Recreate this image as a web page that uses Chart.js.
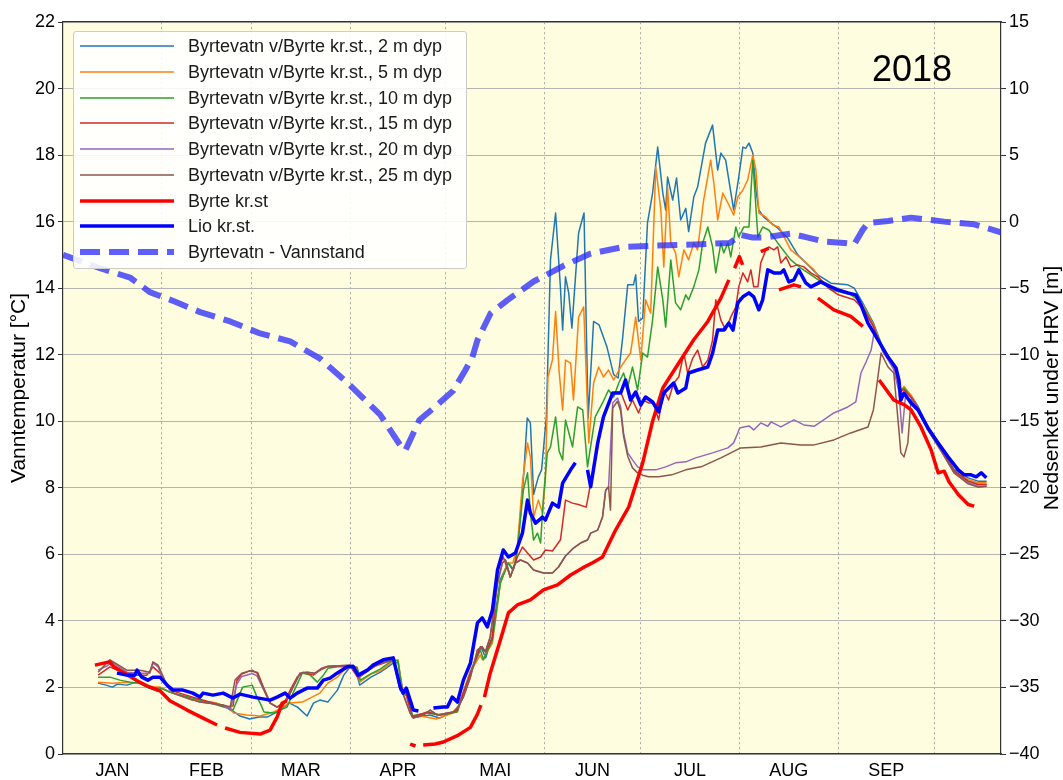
<!DOCTYPE html>
<html><head><meta charset="utf-8">
<script src="https://cdn.jsdelivr.net/npm/chart.js@4/dist/chart.umd.min.js"></script>
<style>
html,body{margin:0;padding:0;background:#fff;}
#wrap{position:relative;width:1063px;height:780px;font-family:"Liberation Sans",Arial,sans-serif;}
#legend{position:absolute;left:73px;top:31px;width:394px;height:238px;background:rgba(255,255,255,0.88);border:1px solid #cccccc;border-radius:3px;box-sizing:border-box;}
.row{position:absolute;left:0;width:390px;height:26px;}
.row svg{position:absolute;left:6px;top:0;}
.row span{position:absolute;left:114px;top:0;line-height:26px;font-size:18px;color:#1a1a1a;white-space:nowrap;}
#year{position:absolute;left:872px;top:51px;font-size:36px;line-height:1;color:#000;}
</style></head>
<body>
<div id="wrap">
<canvas id="c" width="1063" height="780"></canvas>
<div id="legend"></div>
<div id="year">2018</div>
</div>
<script>
// ---- categories / tick labels ----
const MONTHS = ['JAN','FEB','MAR','APR','MAI','JUN','JUL','AUG','SEP'];
const MONTH_MID = [15.5,45,74.5,105,135.5,166,196.5,227.5,258];
const MONTH_START = [31,59,90,120,151,181,212,243,273];
const Y_TITLE = 'Vanntemperatur [°C]';
const Y1_TITLE = 'Nedsenket under HRV [m]';

// ---- series values: [day of year, value] ----
const T02 = [[11,2.13],[13.5,2.07],[15.5,2.01],[17,2.10],[20,2.07],[23,2.16],[25,2.07],[27,1.98],[29.5,1.89],[31,1.98],[33.5,1.86],[40.5,1.62],[48,1.53],[51.5,1.41],[55.5,1.14],[58.5,1.05],[61.5,1.11],[64,1.11],[67,1.26],[71,1.53],[73.5,1.41],[76.5,1.14],[78.5,1.53],[80.5,1.62],[83,1.56],[86,1.92],[88,2.37],[90,2.62],[91.5,2.62],[93,2.07],[96.5,2.31],[99.5,2.46],[103.5,2.73],[105,2.76],[106.5,1.92],[107.5,1.86],[108,1.62],[109.5,1.17],[111,1.11],[115,1.17],[118,1.08],[121.5,1.23],[123.5,1.32],[127.5,2.43],[131,3.22],[132.5,2.89],[134.5,3.52],[137,5.23],[139.5,5.74],[141,5.53],[142,5.83],[143,6.73],[144.5,8.54],[145.5,10.1],[146.5,9.95],[147.5,7.8],[149,8.33],[150,8.54],[151.5,10.13],[152.8,14.85],[154.4,16.26],[155.9,14.04],[156.6,12.74],[157.5,14.34],[158.5,13.86],[159.5,12.8],[161.6,15.66],[163.3,16.26],[164.6,10.1],[166.3,13.0],[168,12.9],[170.5,12.23],[172.6,11.4],[174,11.3],[175.4,12.5],[177,14.1],[178.8,14.1],[179.5,14.4],[180.4,13.0],[181.7,13.1],[183.2,15.96],[184.8,16.86],[186.4,18.24],[188,16.86],[188.9,16.35],[189.5,17.34],[191.1,16.65],[192.3,17.31],[193.6,16.05],[195.2,16.4],[196.1,15.7],[197.7,16.74],[198.9,17.04],[201.4,18.36],[203.6,18.9],[205.2,17.55],[206.2,18.06],[207.7,17.85],[210.2,16.35],[211.8,17.34],[213.1,18.24],[214,18.2],[215,18.36],[216.2,18.06],[217.2,16.95],[218.1,16.35],[219.6,16.14],[221.9,15.96],[224,15.81],[227.2,15.5],[230.3,15.0],[233.5,14.7],[236.6,14.4],[240.7,14.15],[246,14.1],[248,14.0],[251,13.5],[254,12.95],[257,12.2],[260.4,11.7],[262.6,10.95],[263.6,11.0],[266,10.75],[268,10.45],[271,9.85],[275.6,9.15],[279.3,8.55],[283.7,8.3],[286.8,8.2],[289.5,8.2]];

const T05 = [[11,2.16],[15.5,2.13],[20,2.16],[24,2.13],[27,2.01],[30.5,2.01],[33.5,1.86],[40.5,1.62],[48,1.53],[51.5,1.41],[53.5,1.23],[57.5,1.17],[61.8,1.14],[66,1.26],[71,1.53],[75,1.56],[80.5,1.83],[83,2.13],[86,2.31],[88,2.52],[90,2.62],[92,2.62],[93,2.16],[96.5,2.4],[99.5,2.5],[103.5,2.78],[105,2.83],[106.5,1.83],[107.5,1.83],[109.5,1.11],[112,1.14],[117,1.05],[120.5,1.17],[123.5,1.28],[127.5,2.43],[130.8,2.98],[131.5,2.83],[134.6,3.34],[137.1,5.14],[139.3,5.74],[141,5.74],[142.4,6.22],[144,8.15],[145.6,9.35],[146.5,8.93],[147.5,7.12],[149,7.63],[150.3,7.24],[151.2,8.24],[152,11.33],[153.4,11.84],[154.4,13.3],[155.5,11.5],[156.6,10.34],[157.5,11.84],[159.1,11.75],[160,10.64],[161.6,13.13],[163.2,13.44],[164.8,9.35],[166.3,11.15],[167.9,11.63],[169.4,11.33],[171,11.54],[172.6,11.24],[174.8,11.63],[176.3,11.84],[177.9,12.05],[179.5,13.13],[181.1,11.84],[182.6,13.65],[184.2,13.25],[185.8,17.64],[187.4,16.35],[188.3,14.64],[189.5,17.04],[190.5,15.36],[192,15.06],[193,14.34],[194.6,15.15],[196.1,14.85],[197.7,15.36],[198.9,15.15],[200.8,16.65],[203,17.85],[204,17.16],[205.2,16.05],[206.8,16.86],[208.4,16.56],[210.2,16.2],[211.5,16.74],[213.1,16.95],[214.6,17.25],[216.2,18.0],[217.2,17.55],[218.1,16.26],[220.3,16.14],[222.5,15.9],[224.4,15.84],[228.1,15.15],[231.3,14.9],[235.4,14.55],[237.5,14.25],[240.7,14.0],[243.8,13.95],[246.9,13.85],[248.5,13.75],[251,13.45],[254,12.9],[257,12.15],[260.4,11.65],[262.6,10.9],[263.6,11.05],[266,10.75],[268,10.4],[271,9.8],[275.6,9.1],[279.3,8.5],[283.7,8.25],[286.8,8.15],[289.5,8.15]];

const T10 = [[11,2.31],[14.7,2.31],[17.8,2.22],[21,2.16],[24,2.13],[27,1.98],[30.5,1.98],[33.5,1.86],[43,1.62],[51.4,1.38],[53.3,1.32],[55,1.71],[56.3,2.01],[59.3,2.07],[60.8,1.71],[61.8,1.53],[63,1.26],[66,1.23],[70.2,1.41],[72.1,1.83],[75,2.43],[77.5,2.37],[79.7,2.16],[81.6,2.37],[83.1,2.58],[85.9,2.62],[89.1,2.62],[92.2,2.6],[93.2,2.22],[96.3,2.4],[99.4,2.55],[103.5,2.83],[105,2.8],[106.3,1.9],[108,1.7],[109.5,1.15],[114,1.23],[118.3,1.17],[123.6,1.26],[127.7,2.43],[130.8,3.13],[131.8,2.83],[134.6,3.43],[137.1,5.14],[139.6,5.74],[141.2,5.55],[142.4,6.13],[144.3,7.93],[145.6,8.45],[146.5,7.24],[147.5,6.43],[148.7,6.64],[149.7,6.34],[150.6,7.72],[151.8,9.05],[152.8,9.23],[154.4,10.13],[155.5,9.1],[156.6,8.84],[157.5,10.04],[159.7,9.23],[161.3,10.43],[162.9,10.34],[164.4,8.63],[166.8,10.13],[169.1,10.55],[171,10.94],[172.6,10.73],[174.2,11.15],[175.7,11.45],[177,11.03],[178.5,11.63],[180.1,10.94],[181.7,12.05],[183.2,11.93],[184.8,13.04],[186.4,14.64],[188,13.65],[188.9,12.83],[190.5,14.85],[192,13.56],[193.6,13.35],[195.2,13.8],[196.1,13.65],[197.7,14.04],[199.3,14.55],[200.5,15.36],[202.1,15.84],[203.6,15.24],[204.6,14.46],[206.2,15.36],[207.1,15.06],[208.4,15.36],[209.3,14.94],[210.9,15.84],[211.8,15.54],[213.4,15.84],[215,15.84],[216.2,17.85],[217.8,15.54],[219.3,15.84],[221.2,15.75],[224,15.36],[228.1,14.85],[231.3,14.6],[235.4,14.34],[237.5,14.2],[240.7,13.95],[246.9,13.8],[248.5,13.7],[251,13.4],[254,12.85],[257,12.1],[260.4,11.6],[262.6,10.9],[263.6,11.0],[266,10.7],[268,10.4],[271,9.8],[275.6,9.1],[279.3,8.5],[283.7,8.2],[286.8,8.1],[289.5,8.1]];

const T15 = [[11,2.37],[14.7,2.62],[16.9,2.52],[18.7,2.46],[23.2,2.37],[26.3,2.37],[28.2,2.62],[30.4,2.43],[33.5,1.92],[40.7,1.71],[51.4,1.41],[53.3,1.45],[54.5,2.2],[56,2.4],[58.6,2.5],[61,2.45],[62.8,2.01],[65,1.53],[67.1,1.41],[69,1.45],[71.2,1.92],[73.4,2.31],[75.3,2.46],[78.4,2.37],[80.6,2.52],[82.8,2.62],[86.8,2.64],[90,2.64],[92.5,2.28],[97.2,2.62],[103.5,2.83],[105.7,1.92],[107.3,1.9],[109.5,1.11],[114.2,1.26],[118.3,1.17],[122.5,1.26],[123.6,1.32],[127.7,2.43],[130.8,3.22],[132.5,3.07],[134.6,3.5],[136.2,5.53],[138,5.92],[140.2,5.32],[142.4,5.92],[144,6.22],[145.6,6.04],[147.5,5.83],[149.7,5.92],[151.2,6.13],[153.4,6.1],[155.9,6.43],[156.6,6.94],[157.5,7.63],[159.7,7.54],[161.5,7.5],[164,7.42],[165.4,8.14],[167.6,9.23],[169.1,10.04],[170.7,10.43],[172.3,10.85],[174.8,10.88],[177,10.34],[178.5,10.64],[180.4,10.25],[181.9,10.64],[183.5,10.55],[185.1,10.55],[186.7,10.04],[188.3,10.94],[189.8,10.64],[191.4,11.15],[193,11.33],[194.6,12.05],[195.8,11.45],[197.4,11.9],[198.9,12.14],[200.5,11.63],[202.1,11.84],[203.6,12.44],[204.6,13.65],[206.2,13.04],[207.7,12.74],[209.3,13.13],[210.9,13.44],[211.8,14.04],[213.1,14.46],[214.6,14.19],[215.6,14.55],[216.5,14.04],[217.8,14.04],[218.7,14.76],[220.3,15.15],[221.2,15.24],[222.8,15.15],[224,15.24],[225,14.76],[226.6,14.94],[228.1,14.64],[230.3,14.7],[232.2,14.64],[234.4,14.46],[236.6,14.34],[240,14.0],[243,13.8],[248,13.65],[251,13.35],[254,12.85],[257,12.1],[260.4,11.6],[262.6,10.9],[263.6,10.95],[266,10.7],[268,10.4],[271,9.8],[275.6,9.1],[279.3,8.5],[283.7,8.2],[286.8,8.1],[289.5,8.1]];

const T20 = [[11,2.52],[13.7,2.64],[15.3,2.77],[20,2.46],[24,2.43],[27.2,2.43],[28.2,2.73],[29.8,2.62],[31.4,2.22],[34.5,1.83],[42.9,1.56],[50.2,1.47],[52.4,1.32],[54.5,2.1],[56,2.33],[59.3,2.42],[60.8,2.35],[62.8,1.95],[64.9,1.53],[67.1,1.41],[70.2,1.62],[72.1,2.01],[74.3,2.43],[76.5,2.46],[79,2.43],[81.2,2.58],[83.1,2.64],[90,2.67],[92.5,2.31],[95.4,2.5],[99.4,2.73],[103.5,2.83],[105.7,1.95],[106.6,1.8],[108.8,1.23],[109.8,1.08],[112.9,1.17],[115.1,1.32],[117.3,1.17],[119.8,1.22],[122.3,1.26],[123.8,1.41],[125.5,1.71],[127.7,2.31],[129.9,3.13],[131.4,3.22],[132.4,3.07],[133.9,3.52],[136.2,5.14],[137.7,5.74],[138.7,5.83],[140.2,5.32],[141.8,5.74],[143.4,5.83],[145.6,5.74],[147.5,5.53],[150.6,5.44],[153.4,5.44],[155.3,5.62],[157.5,5.95],[160,6.19],[162.2,6.34],[164.4,6.43],[165.4,6.64],[167.6,6.73],[169.1,7.12],[170.1,7.93],[171,8.03],[172.3,10.55],[173.8,10.7],[174.8,10.43],[175.7,9.65],[177,9.05],[178.5,8.84],[180.1,8.63],[181.7,8.54],[185.8,8.54],[188.9,8.63],[192,8.75],[195.2,8.78],[198.3,8.9],[203.6,9.05],[208.4,9.2],[210.2,9.35],[211.5,9.65],[212.1,9.8],[213.4,9.83],[215,9.86],[216.5,9.74],[218.7,9.95],[220.9,9.85],[221.9,9.98],[225,9.83],[229.1,10.04],[232.2,9.89],[235.4,9.85],[237.5,9.98],[241.6,10.25],[246,10.43],[248.5,10.58],[250.1,11.45],[251.7,11.78],[253.3,12.14],[254.2,12.65],[255.5,12.5],[257,12.1],[260.4,11.55],[262,10.9],[263,9.65],[264,10.7],[266,10.65],[268,10.35],[271,9.75],[275.6,9.05],[279.3,8.45],[283.7,8.15],[286.8,8.05],[289.5,8.05]];

const T25 = [[11,2.46],[14.7,2.83],[16.9,2.7],[20,2.52],[24.1,2.52],[27.2,2.46],[28.2,2.77],[29.8,2.67],[31.9,2.22],[34.5,1.83],[42.9,1.56],[50.2,1.47],[52.4,1.41],[53.9,2.22],[56.1,2.43],[59.3,2.52],[60.8,2.43],[62.8,1.98],[64.9,1.53],[67.1,1.41],[70.2,1.62],[72.1,2.01],[74.3,2.43],[76.5,2.46],[79,2.43],[81.2,2.58],[83.1,2.64],[90,2.67],[92.5,2.31],[95.4,2.5],[99.4,2.73],[103.5,2.83],[105.7,1.95],[106.6,1.8],[108.8,1.23],[109.8,1.08],[112.9,1.17],[115.1,1.32],[117.3,1.17],[119.8,1.22],[122.3,1.26],[123.8,1.41],[125.5,1.71],[127.7,2.31],[129.9,3.13],[131.4,3.22],[132.4,3.07],[133.9,3.52],[136.2,5.14],[137.7,5.74],[138.7,5.83],[140.2,5.32],[141.8,5.74],[143.4,5.83],[145.6,5.74],[147.5,5.53],[150.6,5.44],[153.4,5.44],[155.3,5.62],[157.5,5.95],[160,6.19],[162.2,6.34],[164.4,6.43],[165.4,6.64],[167.6,6.73],[169.1,7.12],[170.1,7.93],[171,8.03],[171.6,7.33],[172.3,10.4],[173.8,10.6],[174.8,10.3],[175.7,9.55],[177,8.95],[178.5,8.6],[180.1,8.45],[181.7,8.38],[183.5,8.33],[186.7,8.33],[190.8,8.39],[195.2,8.54],[198.3,8.6],[200,8.63],[206.2,8.9],[212.4,9.2],[218.7,9.23],[225,9.35],[231.3,9.29],[235.4,9.29],[241.6,9.44],[246.9,9.65],[252.3,9.83],[254,10.34],[255,11.03],[256.4,12.05],[258.6,11.63],[260.4,11.45],[262,9.74],[262.6,9.05],[263.6,8.93],[264.8,9.35],[265.8,10.64],[268,10.3],[271,9.75],[275.6,9.05],[279.3,8.45],[283.7,8.12],[286.8,8.02],[289.5,8.05]];

const BYRTE = [[10,2.67],[14.5,2.77],[16,2.62],[23.2,2.2],[26.3,2.05],[30.4,1.9],[33.5,1.6],[38.9,1.32],[43.9,1.08],[48.3,0.87],[49.5,null],[50.8,0.78],[55.5,0.65],[61.8,0.6],[64.9,0.72],[67.1,1.11],[68.7,1.53],[70.2,1.6],[72,null],[108.8,0.3],[110.5,0.24],[111.5,null],[112.9,0.27],[116.7,0.3],[119.2,0.36],[123.6,0.55],[127.7,0.8],[129.9,1.2],[131,1.47],[131.6,null],[132.1,1.71],[133.9,2.43],[137.1,3.43],[139.6,4.24],[142.4,4.48],[146.5,4.63],[150.6,4.93],[155,5.08],[159.1,5.38],[163,5.6],[166,5.75],[169.1,5.92],[173.2,6.73],[177.3,7.42],[181.7,8.75],[184.8,10.0],[188,11.0],[193,11.75],[197.7,12.45],[202.1,13.0],[206.2,13.7],[208.7,14.25],[209.5,null],[210.5,14.6],[212,14.95],[213,14.7],[214,null],[218.7,15.1],[221.2,15.2],[222,null],[224.4,13.95],[229.1,14.1],[231.3,14.04],[232.5,null],[236.6,13.7],[241.6,13.35],[246.9,13.15],[250.7,12.85],[252,null],[255.8,11.24],[260.4,10.64],[263.6,10.5],[265.8,10.34],[268.9,9.83],[272.1,9.14],[274.3,8.45],[276.2,8.5],[277.7,8.18],[280.6,7.8],[283.7,7.5],[285.6,7.45]];

const LIO = [[16.9,2.43],[20,2.37],[22.5,2.37],[23.2,2.52],[24.7,2.31],[26.6,2.22],[28.2,2.31],[30.4,2.31],[32.6,2.07],[34.5,1.92],[37.6,1.92],[40.7,1.83],[42.9,1.71],[43.9,1.83],[47,1.77],[50.2,1.83],[53.3,1.68],[55.5,1.8],[59.6,1.71],[64.9,1.62],[67.1,1.71],[69.6,1.83],[71.2,1.68],[73.4,1.83],[76.5,1.98],[79.7,1.98],[81.6,2.22],[83.7,2.28],[85.9,2.43],[89.1,2.62],[90.9,2.64],[92.5,2.37],[95.4,2.52],[97.2,2.67],[100.4,2.83],[103.5,2.89],[105.7,2.01],[106.6,1.83],[107.6,1.98],[108.8,1.62],[109.8,1.32],[111.4,1.29],[113,null],[116.1,1.38],[119.2,1.41],[120.5,1.41],[122,1.71],[123.6,1.56],[125.5,2.22],[127.7,2.73],[129.9,3.94],[131.4,4.09],[133,3.82],[134.6,4.33],[136.2,5.53],[138,6.13],[139.6,5.92],[141.8,6.04],[144,6.64],[145.6,7.63],[146.5,7.24],[148.1,6.94],[150.3,7.12],[151.2,7.03],[153.4,7.54],[155.3,7.42],[156.6,8.14],[159.1,8.54],[160.6,8.75],[162,null],[164.4,8.54],[165.4,8.03],[167.6,9.35],[169.4,10.13],[172.3,10.85],[174.8,10.85],[176.3,11.24],[177.9,10.64],[179.5,10.88],[181.1,10.49],[182.6,10.73],[184.8,10.58],[186.7,10.28],[188.3,10.85],[191.4,11.15],[192.7,10.85],[195.2,11.0],[196.1,11.45],[198.9,11.54],[202.1,11.63],[203.6,12.05],[205.2,12.74],[207.1,12.74],[208.7,12.95],[210,12.74],[211.5,13.56],[213.1,13.74],[215,13.86],[216.5,13.74],[218.1,13.35],[219.3,13.65],[220.9,14.55],[222.8,14.46],[225,14.46],[225.9,14.55],[227.5,14.19],[229.1,14.25],[230.6,14.55],[232.8,14.16],[234.4,14.04],[237.5,14.19],[240.7,14.04],[242.9,13.95],[246,13.86],[248.5,13.8],[250.1,13.5],[252.3,12.95],[254.2,12.65],[256.4,12.29],[258.6,11.93],[261.1,11.6],[262,11.24],[262.6,10.64],[263.6,10.85],[265.8,10.55],[268,10.34],[271.1,9.8],[274.3,9.35],[277.4,8.93],[280.6,8.54],[282.5,8.39],[284.6,8.39],[286.2,8.33],[287.8,8.45],[289.4,8.3]];

const VANN = [[0,-2.5],[11.6,-3.5],[21,-4.2],[27.2,-5.3],[35,-6.0],[43,-6.8],[52.4,-7.5],[61.8,-8.4],[71.2,-9.0],[80.6,-10.3],[90,-12.3],[99.4,-14.5],[105.7,-16.8],[107.3,-17.2],[111.7,-14.9],[116.7,-13.9],[122.3,-12.7],[126,-11.2],[128.3,-10.2],[129.9,-8.9],[134,-6.9],[139.3,-5.9],[147.5,-4.5],[157,-3.3],[165.4,-2.4],[175.7,-1.9],[186,-1.8],[200,-1.7],[209,-1.6],[212.4,-1.0],[216.2,-1.2],[220,-1.2],[225,-1.0],[228,-0.9],[233.5,-1.2],[238.5,-1.5],[244.8,-1.6],[248,-1.7],[250.7,-0.6],[252.3,-0.1],[258.6,0.05],[265.8,0.3],[276.2,0.0],[285.6,-0.2],[294,-0.8]];

// ---- styles ----
const SERIES = [
  {label:'Byrtevatn v/Byrte kr.st., 2 m dyp',  pts:T02, color:'#1f77b4', w:1.5},
  {label:'Byrtevatn v/Byrte kr.st., 5 m dyp',  pts:T05, color:'#ff7f0e', w:1.5},
  {label:'Byrtevatn v/Byrte kr.st., 10 m dyp', pts:T10, color:'#2ca02c', w:1.5},
  {label:'Byrtevatn v/Byrte kr.st., 15 m dyp', pts:T15, color:'#d62728', w:1.5},
  {label:'Byrtevatn v/Byrte kr.st., 20 m dyp', pts:T20, color:'#9467bd', w:1.5},
  {label:'Byrtevatn v/Byrte kr.st., 25 m dyp', pts:T25, color:'#8c564b', w:1.5},
  {label:'Byrte kr.st', pts:BYRTE, color:'#ff0000', w:3.5},
  {label:'Lio kr.st.',  pts:LIO,   color:'#0000ff', w:3.5},
  {label:'Byrtevatn - Vannstand', pts:VANN, color:'rgba(40,40,255,0.75)', w:6, dash:[20,9], axis:'y1'}
];

const FONT = '"Liberation Sans", Arial, sans-serif';
Chart.defaults.font.family = FONT;
Chart.defaults.color = '#000';

const datasets = SERIES.map((s, i) => ({
  label: s.label,
  data: s.pts.map(p => ({x: p[0], y: p[1]})),
  borderColor: s.color,
  backgroundColor: s.color,
  borderWidth: s.w,
  borderDash: s.dash || [],
  borderCapStyle: 'butt',
  borderJoinStyle: 'round',
  pointRadius: 0,
  tension: 0,
  fill: false,
  spanGaps: false,
  yAxisID: s.axis || 'y',
  xAxisID: 'x',
  order: SERIES.length - i
}));

const bgPlugin = {
  id: 'plotBg',
  beforeDraw(chart) {
    const a = chart.chartArea, ctx = chart.ctx;
    ctx.save();
    ctx.fillStyle = '#fffde0';
    ctx.fillRect(a.left, a.top, a.right - a.left, a.bottom - a.top);
    ctx.restore();
  }
};
const rightTitlePlugin = {
  id: 'rightTitle',
  afterDraw(chart) {
    const s = chart.scales.y1, a = chart.chartArea, ctx = chart.ctx;
    ctx.save();
    ctx.translate(s.right - 11, (a.top + a.bottom) / 2);
    ctx.rotate(-Math.PI / 2);
    ctx.font = '21px ' + FONT;
    ctx.fillStyle = '#000';
    ctx.textAlign = 'center';
    ctx.textBaseline = 'middle';
    ctx.fillText(Y1_TITLE, 0, 0);
    ctx.restore();
  }
};

const SPINE = '#333333';
const chart = new Chart(document.getElementById('c'), {
  type: 'line',
  data: { datasets },
  plugins: [bgPlugin, rightTitlePlugin],
  options: {
    responsive: false,
    animation: false,
    events: [],
    layout: { padding: { top: 22, left: 0, right: 0, bottom: 0 } },
    plugins: { legend: { display: false }, tooltip: { enabled: false } },
    scales: {
      x: {
        type: 'linear', position: 'bottom', min: 0, max: 294,
        afterBuildTicks: sc => { sc.ticks = MONTH_MID.map(v => ({value: v})); },
        afterFit: sc => { sc.height = 26; },
        ticks: { autoSkip: false, maxRotation: 0, padding: 6, font: { size: 18 },
                 callback: (v, i) => MONTHS[i] },
        grid: { display: true, drawOnChartArea: false, drawTicks: false },
        border: { display: true, color: SPINE, width: 1.2 }
      },
      xg: {
        type: 'linear', position: 'top', min: 0, max: 294,
        afterBuildTicks: sc => { sc.ticks = MONTH_START.map(v => ({value: v})); },
        afterFit: sc => { sc.height = 0; },
        ticks: { display: false },
        grid: { color: '#a8a8a8', lineWidth: 1, drawTicks: false },
        border: { display: true, color: SPINE, width: 1.2, dash: [2, 3] }
      },
      y: {
        type: 'linear', position: 'left', min: 0, max: 22,
        afterFit: sc => { sc.width = 63; },
        ticks: { stepSize: 2, padding: 3, font: { size: 18 } },
        grid: { color: '#b4b4b4', lineWidth: 1, tickLength: 5, tickColor: SPINE },
        border: { display: true, color: SPINE, width: 1.2 },
        title: { display: true, text: Y_TITLE, font: { size: 21 }, padding: { top: 7, bottom: 0 } }
      },
      y1: {
        type: 'linear', position: 'right', min: -40, max: 15,
        afterFit: sc => { sc.width = 62; },
        ticks: { stepSize: 5, padding: 3, font: { size: 18 },
                 callback: v => String(v).replace('-', '\u2212') },
        grid: { drawOnChartArea: false, tickLength: 5, color: SPINE },
        border: { display: true, color: SPINE, width: 1.2 }
      }
    }
  }
});

// ---- legend (HTML overlay, built from the datasets) ----
const leg = document.getElementById('legend');
SERIES.forEach((s, i) => {
  const row = document.createElement('div');
  row.className = 'row';
  row.style.top = (1 + 25.75 * i) + 'px';
  const dash = s.dash ? ` stroke-dasharray="${s.dash.join(' ')}"` : '';
  row.innerHTML = `<svg width="94" height="26"><line x1="0" y1="13" x2="94" y2="13" stroke="${s.color}" stroke-width="${s.w}"${dash}/></svg><span>${s.label}</span>`;
  leg.appendChild(row);
});
</script>
</body></html>
